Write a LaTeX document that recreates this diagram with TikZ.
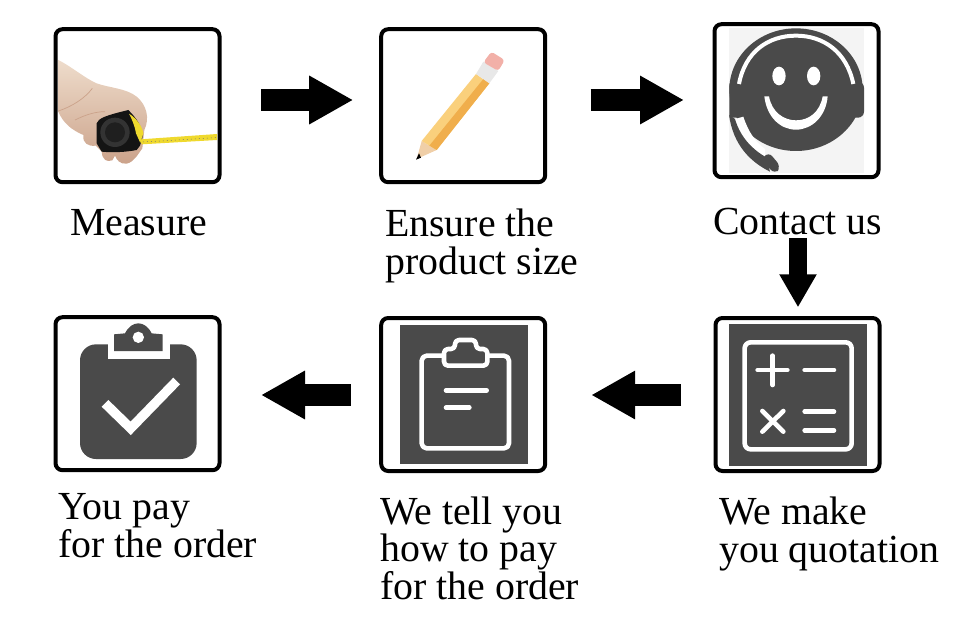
\documentclass[tikz,border=0pt]{standalone}
\usepackage{fontspec}
\setmainfont{Liberation Serif}
\usetikzlibrary{arrows.meta}
\definecolor{icondark}{HTML}{4A4A4A}
\definecolor{iconbg}{HTML}{F4F4F4}
\definecolor{skin}{HTML}{EEDCCB}
\definecolor{skind}{HTML}{CBA28A}
\definecolor{tapey}{HTML}{EFD92E}
\definecolor{pencil}{HTML}{FAD07C}
\definecolor{pencild}{HTML}{F0AE4C}
\definecolor{woodc}{HTML}{F0CFA8}
\definecolor{eraser}{HTML}{F2B0A8}
\definecolor{ferr}{HTML}{E8E8E8}
\tikzset{
  x=1pt,y=-1pt,
  frame/.style={draw=black,line width=4pt,rounded corners=7pt,minimum width=164pt,minimum height=153pt,inner sep=0pt},
  bigarrow/.style={line width=22pt,draw=black,-{Triangle[length=44pt,width=45.5pt]}},
  vertarrow/.style={line width=17.4pt,draw=black,-{Triangle[length=33pt,width=35pt]}},
  caption/.style={inner sep=0pt,anchor=base west,align=left,font=\fontsize{39.8}{37.5}\selectfont},
  zoomE/.style={shift={(55,55)},x=0.33333pt,y=-0.33333pt},
  zoomB/.style={shift={(370,15)},x=0.33333pt,y=-0.33333pt},
  zoomC/.style={shift={(40,305)},x=0.33333pt,y=-0.33333pt},
  zoomD/.style={shift={(370,305)},x=0.33333pt,y=-0.33333pt},
  whiteline/.style={draw=white,line width=4.6pt,line cap=round,line join=round},
}
\begin{document}
\begin{tikzpicture}
\useasboundingbox (0,0) rectangle (960,623);
% frames
\node[frame] (measure) at (137.5,105.7) {};
\node[frame] (ensure) at (463.2,105.7) {};
\node[frame] (contact) at (796.5,100.7) {};
\node[frame] (pay) at (137.5,393.7) {};
\node[frame] (tell) at (463.2,394.5) {};
\node[frame] (quote) at (797.5,394.5) {};
% arrows
\draw[bigarrow,shorten <=39.5pt,shorten >=26pt] (measure.east |- 0,100) -- (ensure.west |- 0,100);
\draw[bigarrow,shorten <=43.5pt,shorten >=28.5pt] (ensure.east |- 0,100) -- (contact.west |- 0,100);
\draw[vertarrow,shorten <=58.7pt,shorten >=8.7pt] (contact.south -| 798,0) -- (quote.north -| 798,0);
\draw[bigarrow,shorten <=32.3pt,shorten >=44pt] (quote.west |- 0,395) -- (tell.east |- 0,395);
\draw[bigarrow,shorten <=28.3pt,shorten >=39.5pt] (tell.west |- 0,395) -- (pay.east |- 0,395);
% captions
\node[caption] (t1) at (70,235) {Measure};
\node[caption] (t2) at (385,274) {Ensure the\\product size};
\node[caption] (t3) at (713,234) {Contact us};
\node[caption] (t4) at (58,557) {You pay\\for the order};
\node[caption] (t5) at (380,599) {We tell you\\how to pay\\for the order};
\node[caption] (t6) at (719,562) {We make\\you quotation};
% hand with tape
\begin{scope}[zoomE]
\shade[top color=skin,bottom color=skind] (10,15) .. controls (50,35) and (90,70) .. (125,85) .. controls (160,98) and (215,100) .. (245,125) .. controls (275,150) and (285,190) .. (268,225) -- (262,280) .. controls (250,295) and (240,320) .. (215,326) .. controls (195,328) and (185,315) .. (180,302) -- (172,316) .. controls (155,322) and (142,315) .. (140,290) -- (122,272) .. controls (100,275) and (82,265) .. (85,240) .. controls (50,225) and (25,205) .. (10,170) -- cycle;
\draw[skind,line width=.7pt] (10,168) .. controls (50,155) and (90,130) .. (112,100);
\draw[skind,line width=.7pt] (60,195) .. controls (90,180) and (120,170) .. (150,170);
\fill[black!92] (125,205) .. controls (130,190) and (150,182) .. (220,165) .. controls (245,190) and (262,215) .. (263,245) -- (255,272) -- (245,285) .. controls (210,292) and (170,293) .. (140,290) -- (125,265) -- cycle;
\fill[black!80] (180,232) circle[radius=44];
\fill[black!88] (180,232) circle[radius=30];
\fill[tapey] (222,176) .. controls (245,190) and (262,215) .. (265,235) -- (256,264) -- (243,235) .. controls (240,215) and (232,195) .. (222,176) -- cycle;
\fill[tapey] (256,253) -- (486,237) -- (486,255) -- (260,268) -- cycle;
\draw[black!55,line width=.5pt,dash pattern=on 1pt off 3pt] (264,261) -- (484,248);
\end{scope}
% pencil
\begin{scope}[zoomB]
\fill[woodc] (155,378) -- (200,405) -- (140,432) -- cycle;
\fill[black] (147,415) -- (153,428) -- (138,434) -- cycle;
\fill[pencil] (155,378) -- (318,177) -- (358,205) -- (200,405) -- cycle;
\fill[pencild] (178,392) -- (340,192) -- (358,205) -- (200,405) -- cycle;
\fill[ferr] (318,177) -- (340,140) -- (385,168) -- (358,205) -- cycle;
\fill[eraser,rounded corners=3pt] (340,142) -- (364,110) -- (404,135) -- (385,168) -- cycle;
\end{scope}
% headset smiley
\begin{scope}[zoomB]
\fill[iconbg] (1078,40) rectangle (1482,475);
\fill[icondark] (1278,224) ellipse[x radius=200,y radius=184];
\fill[icondark,rounded corners=6pt] (1400,200) rectangle (1482,308);
\fill[icondark,rounded corners=3pt] (1078,200) rectangle (1150,308);
\fill[white] (1095,312) -- (1120,305) .. controls (1135,350) and (1155,380) .. (1185,402) -- (1185,425) .. controls (1150,405) and (1112,370) .. (1095,312) -- cycle;
\fill[icondark] (1077,300) -- (1095,312) .. controls (1112,370) and (1150,405) .. (1190,428) -- (1200,470) .. controls (1140,440) and (1090,390) .. (1077,300) -- cycle;
\fill[icondark,rounded corners=6pt] (1195,410) -- (1233,455) -- (1215,478) -- (1175,435) -- cycle;
\draw[white,line width=4pt] (1107,207) .. controls (1125,110) and (1195,62) .. (1278,62) .. controls (1360,62) and (1430,110) .. (1450,207);
\fill[white] (1227,183) ellipse[x radius=20,y radius=28];
\fill[white] (1331,183) ellipse[x radius=20,y radius=28];
\fill[white] (1183,244) -- (1197,244) .. controls (1205,290) and (1240,316) .. (1278,316) .. controls (1318,316) and (1350,290) .. (1358,244) -- (1373,244) .. controls (1368,305) and (1325,344) .. (1278,344) .. controls (1230,344) and (1190,305) .. (1183,244) -- cycle;
\end{scope}
% clipboard with tick
\begin{scope}[zoomC]
\fill[icondark,rounded corners=16pt] (120,118) rectangle (470,462);
\fill[white] (203,100) rectangle (390,163);
\fill[icondark] (222,138) -- (222,88) -- (255,85) .. controls (265,65) and (280,55) .. (295,55) .. controls (310,55) and (325,65) .. (335,85) -- (368,88) -- (368,138) -- cycle;
\fill[white] (295,97) circle[radius=17];
\draw[draw=white,line width=9.5pt,line join=miter] (195,295) -- (272,370) -- (410,228);
\end{scope}
% clipboard outline
\begin{scope}[zoomD]
\fill[icondark] (90,60) rectangle (474,477);
\draw[whiteline,rounded corners=5pt] (155,152) rectangle (417,430);
\fill[icondark,rounded corners=6pt] (222,125) rectangle (352,182);
\draw[whiteline,rounded corners=4pt] (222,182) -- (222,132) -- (255,132) -- (255,105) -- (318,105) -- (318,132) -- (352,132) -- (352,182) -- cycle;
\draw[whiteline] (228,256) -- (350,256);
\draw[whiteline] (228,308) -- (298,308);
\end{scope}
% calculator
\begin{scope}[zoomD]
\fill[icondark] (1077,57) rectangle (1491,483);
\draw[whiteline,rounded corners=6pt] (1124,112) rectangle (1445,433);
\draw[whiteline] (1163,195) -- (1252,195);
\draw[whiteline] (1208,152) -- (1208,240);
\draw[whiteline] (1304,195) -- (1392,195);
\draw[whiteline] (1177,318) -- (1240,380);
\draw[whiteline] (1240,318) -- (1177,380);
\draw[whiteline] (1304,320) -- (1392,320);
\draw[whiteline] (1304,376) -- (1392,376);
\end{scope}
\end{tikzpicture}
\end{document}
